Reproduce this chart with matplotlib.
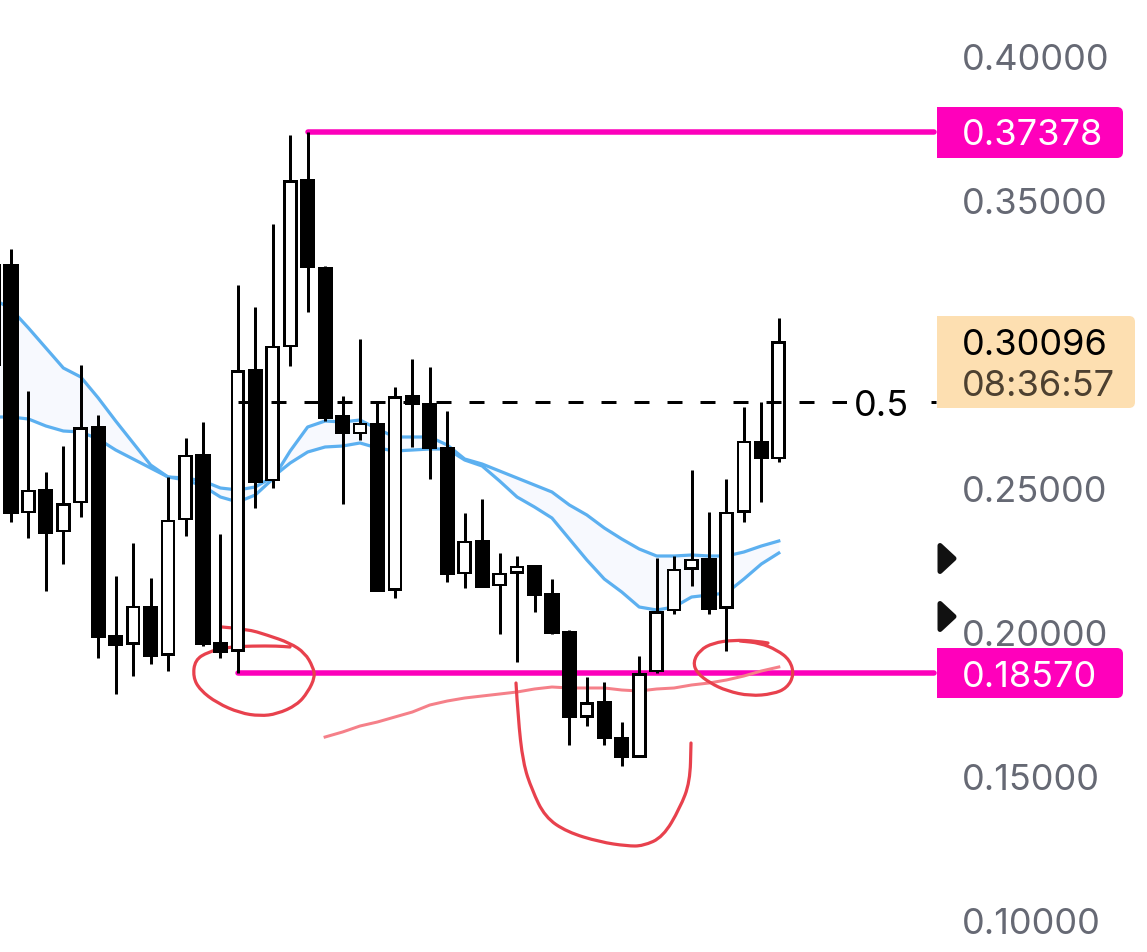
import matplotlib
matplotlib.use("Agg")
import matplotlib.pyplot as plt
from matplotlib.patches import FancyBboxPatch, PathPatch, Polygon, Rectangle
from matplotlib.path import Path
from matplotlib.transforms import Affine2D, ScaledTranslation, blended_transform_factory

plt.rcParams['font.family'] = ['Inter', 'DejaVu Sans']

W, H = 1147, 952

# candles, first one is cut off by the left edge
candle_idx = list(range(-1, 45))
opens = [.32778, .32778, .24167, .24965, .23507, .24514, .27153, .19896, .19618, .20903,
         .19236, .23924, .26181, .19653, .19375, .29132, .25278, .29931, .35729, .32674,
         .27535, .26910, .27257, .21493, .28229, .27951, .26424, .22049, .23194, .21632,
         .22083, .22326, .21354, .20035, .17083, .17604, .16354, .15694, .18646, .20764,
         .22222, .22569, .20868, .24201, .26632, .26042]
closes = [.29271, .24132, .24931, .23472, .24479, .27118, .19861, .19583, .20903, .19201,
          .23889, .26146, .19618, .19340, .29097, .25243, .29931, .35694, .32674, .27465,
          .26910, .27257, .21458, .28194, .27917, .26389, .22014, .23160, .21597, .22049,
          .22292, .21319, .20000, .17083, .17569, .16354, .15660, .18576, .20729, .22188,
          .22535, .20833, .24167, .26632, .26042, .30096]
highs = [.32778, .33299, .28368, .25556, .26458, .29271, .27535, .21944, .23090, .21875,
         .25382, .26736, .27292, .23403, .32049, .31285, .34167, .37257, .37378, .32708,
         .28194, .30174, .28021, .28507, .29479, .29201, .27674, .24132, .24618, .22743,
         .22639, .22326, .21840, .20069, .18438, .18264, .16875, .19167, .22569, .22639,
         .25625, .24167, .25313, .27813, .27986, .30903]
lows = [.29271, .23819, .23264, .21424, .22361, .23993, .19097, .17847, .18472, .18889,
        .18646, .23333, .19514, .19097, .18570, .24306, .25000, .29236, .31111, .27326,
        .24444, .26667, .21424, .21181, .26424, .25313, .21736, .21528, .21597, .19931,
        .18958, .20694, .19931, .16076, .16736, .16076, .15347, .15694, .18576, .20625,
        .21597, .20625, .19340, .23819, .24514, .25903]

# moving average band
ema_a = [.31563, .31215, .30556, .29861, .29167, .28854, .28125, .27326, .26563, .25799,
         .25382, .25278, .25069, .24688, .24514, .24757, .25313, .26285, .27118, .27326,
         .27292, .27361, .27049, .26771, .26771, .26771, .26493, .26007, .25833, .25590,
         .25347, .25104, .24861, .24410, .24063, .23611, .23229, .22882, .22639, .22639,
         .22674, .22639, .22639, .22778, .22986, .23160]
ema_b = [.27465, .27465, .27396, .27153, .26979, .26944, .26701, .26319, .26007, .25694,
         .25382, .25347, .25243, .25000, .24931, .25035, .25382, .25868, .26250, .26424,
         .26458, .26563, .26389, .26285, .26319, .26354, .26354, .25972, .25764, .25243,
         .24688, .24340, .23958, .23229, .22500, .21840, .21389, .20868, .20764, .20868,
         .21215, .21285, .21354, .21840, .22361, .22743]

# pale red average, starts at candle 18
slow_idx = list(range(18, 45))
slow_ma = [.16354, .16528, .16736, .16875, .17049, .17222, .17465, .17604, .17708, .17778,
           .17847, .17917, .18021, .18090, .18056, .18056, .18056, .17986, .17951, .18021,
           .18056, .18160, .18229, .18333, .18472, .18646, .18785]

swing_high = 0.37378
swing_low = 0.18570
last_price = 0.30096
countdown = "08:36:57"
axis_ticks = [0.40, 0.35, 0.25, 0.20, 0.15, 0.10]

# hand drawn red marks, in image pixels
scribble_left = [(222, 627), (247, 629), (267, 635), (290, 643), (305, 653), (313, 667), (315, 677),
                 (308, 692), (297, 705), (277, 714), (260, 716), (240, 713), (217, 703), (200, 690),
                 (193, 677), (195, 660), (208, 652), (227, 647), (253, 646), (277, 646), (290, 647)]
scribble_right = [(768, 643), (757, 641), (733, 640), (713, 643), (700, 650), (693, 662), (697, 673),
                  (710, 683), (727, 691), (750, 696), (773, 694), (787, 688), (794, 675), (790, 660),
                  (777, 650), (760, 643), (740, 641)]
scribble_cup = [(516, 683), (518, 717), (523, 763), (532, 790), (545, 817), (567, 832), (600, 842),
                (627, 846), (643, 846), (663, 837), (680, 808), (690, 782), (691, 743)]

PINK = '#fc00bb'
BLUE = '#5cb0f0'
RED = '#e8414d'
GREY = '#666974'
TEXT_SIZE = 26

fig = plt.figure(figsize=(W / 100, H / 100), dpi=100)
ax = fig.add_axes([0, 0, 1, 1])
ax.axis('off')
ax.set_xlim(-11 / 17.45, (W - 11) / 17.45)
ax.set_ylim(256 / 2880, 1208 / 2880)

px = Affine2D().scale(1 / W, -1 / H).translate(0, 1) + fig.transFigure
# labels sit a little low, inter centres on its full box
label_tr = blended_transform_factory(px, ax.transData) + ScaledTranslation(0, -4 / 100, fig.dpi_scale_trans)


def lw(p):
    return p * 0.72


def smooth_path(points):
    # quadratic curve through the midpoints, keeps the pen strokes round
    verts = [points[0]]
    codes = [Path.MOVETO]
    for a, b in zip(points[1:-1], points[2:]):
        verts += [a, ((a[0] + b[0]) / 2, (a[1] + b[1]) / 2)]
        codes += [Path.CURVE3, Path.CURVE3]
    verts.append(points[-1])
    codes.append(Path.LINETO)
    return Path(verts, codes)


# band
ax.fill_between(candle_idx, ema_a, ema_b, color='#f7f9fe', lw=0, zorder=1)

# levels, stop just before the price scale
right_end = (934 - 11) / 17.45
ax.plot([17, right_end], [swing_high, swing_high], color=PINK, lw=lw(5.5), solid_capstyle='round', zorder=2)
ax.plot([13, right_end], [swing_low, swing_low], color=PINK, lw=lw(5.5), solid_capstyle='round', zorder=2)

ax.plot(slow_idx, slow_ma, color='#f58089', lw=lw(3), zorder=3)

for stroke in (scribble_left, scribble_right, scribble_cup):
    ax.add_patch(PathPatch(smooth_path(stroke), facecolor='none', edgecolor=RED, lw=lw(3.2),
                           transform=px, capstyle='round', zorder=3.5))

ax.plot(candle_idx, ema_a, color=BLUE, lw=lw(3.2), zorder=4)
ax.plot(candle_idx, ema_b, color=BLUE, lw=lw(3.2), zorder=4)

# candles
inset = 2.5 / 2880
extra = 1.5 / 2880
for i, o, c, h, l in zip(candle_idx, opens, closes, highs, lows):
    top, bot = max(o, c), min(o, c) - extra
    ax.vlines(i, l, h, color='black', lw=lw(3), zorder=5)
    if c < o:
        ax.bar(i, top - bot, bottom=bot, width=0.87, color='black', lw=0, zorder=6)
    else:
        ax.bar(i, top - bot, bottom=bot, width=0.84, color='black', lw=0, zorder=6)
        ax.bar(i, top - bot - 2 * inset, bottom=bot + inset, width=0.84 - 5.4 / 17.45,
               color='white', lw=0, zorder=6.5)

# 0.5 fib level
mid = (swing_high + swing_low) / 2
ax.plot([13, 53], [mid, mid], color='black', lw=lw(3), ls=(0, (5, 6)), zorder=7)
ax.text(881, mid, '0.5', transform=label_tr, fontsize=TEXT_SIZE, color='black', ha='center', va='center',
        zorder=8, bbox=dict(facecolor='white', edgecolor='none', pad=5))

# price scale
for t in axis_ticks:
    ax.text(962, t, f'{t:.5f}', transform=label_tr, fontsize=TEXT_SIZE, color=GREY, ha='left', va='center', zorder=8)


def tag(x0, y0, x1, y1, color, square_left=True):
    ax.add_patch(FancyBboxPatch((x0, y0), x1 - x0, y1 - y0, boxstyle='round,pad=0,rounding_size=6',
                                transform=px, facecolor=color, edgecolor='none', zorder=9))
    if square_left:
        ax.add_patch(Rectangle((x0, y0), 12, y1 - y0, transform=px, facecolor=color, edgecolor='none', zorder=9))


tag(937, 107, 1123, 158, '#ff00bb')
tag(937, 648, 1123, 698, '#ff00bb')
ax.text(962, swing_high, f'{swing_high:.5f}', transform=label_tr, fontsize=TEXT_SIZE, color='white', ha='left', va='center', zorder=10)
ax.text(962, swing_low, f'{swing_low:.5f}', transform=label_tr, fontsize=TEXT_SIZE, color='white', ha='left', va='center', zorder=10)

tag(937, 316, 1135, 408, '#fddfb1')
ax.text(962, last_price, f'{last_price:.5f}', transform=label_tr, fontsize=TEXT_SIZE, color='black', ha='left', va='center', zorder=10)
ax.text(962, 387, countdown, transform=px, fontsize=TEXT_SIZE, color='#4d4030', ha='left', va='center', zorder=10)

# alert arrows on the scale
for yc in (558.5, 616.5):
    ax.add_patch(Polygon([(940, yc - 13), (954, yc), (940, yc + 13)], closed=True, transform=px,
                         facecolor='#111111', edgecolor='#111111', lw=lw(5), joinstyle='round', zorder=9))

fig.savefig('out.png', dpi=100)
